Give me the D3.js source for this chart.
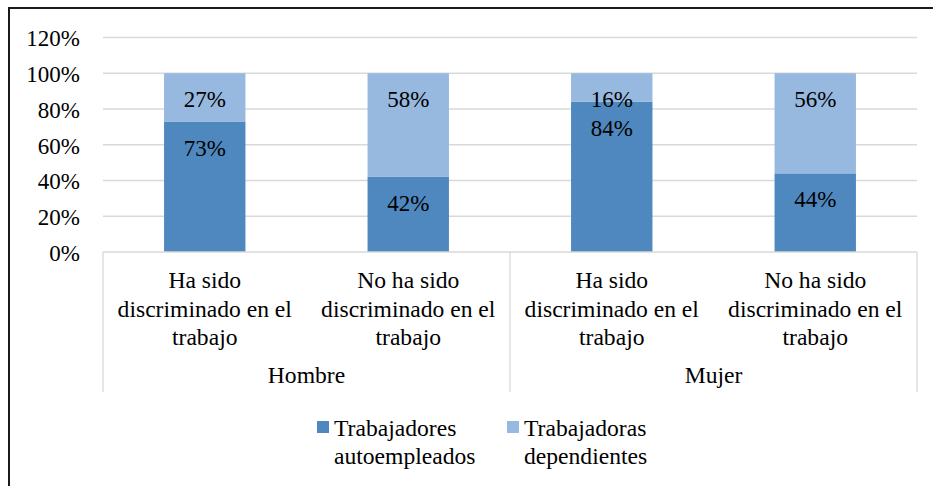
<!DOCTYPE html>
<html>
<head>
<meta charset="utf-8">
<script src="https://cdn.jsdelivr.net/npm/d3@7"></script>
<style>
  html, body { margin: 0; padding: 0; background: #fff; }
  svg { display: block; }
</style>
</head>
<body>
<svg id="chart" width="933" height="486"></svg>
<script>
// ---- data ----
const groups = ["Hombre", "Mujer"];
const categories = [
  ["Ha sido", "discriminado en el", "trabajo"],
  ["No ha sido", "discriminado en el", "trabajo"],
  ["Ha sido", "discriminado en el", "trabajo"],
  ["No ha sido", "discriminado en el", "trabajo"]
];
const categoryGroup = [0, 0, 1, 1];
const seriesNames = [["Trabajadores", "autoempleados"], ["Trabajadoras", "dependientes"]];
const autoempleados = [0.73, 0.42, 0.84, 0.44];
const dependientes = [0.27, 0.58, 0.16, 0.56];
const yTicks = [0, 0.2, 0.4, 0.6, 0.8, 1.0, 1.2];

// ---- layout ----
const FONT = "'Liberation Serif', 'DejaVu Serif', serif";
const svg = d3.select("#chart").attr("font-family", FONT);
const colors = ["#4F88BE", "#97B8DF"];
const plotLeft = 103, plotRight = 917, plotTop = 37.5, plotBase = 252;

// frame
svg.append("rect").attr("x", 9).attr("y", 8).attr("width", 940).attr("height", 500)
  .attr("fill", "none").attr("stroke", "#1a1a1a").attr("stroke-width", 2);

const idx = d3.range(categories.length);
const x = d3.scaleBand().domain(idx).range([plotLeft, plotRight]).padding(0);
const y = d3.scaleLinear().domain([0, 1.2]).range([plotBase, plotTop]);
const barW = x.bandwidth() * 0.4;

// gridlines
svg.append("g").selectAll("line").data(yTicks.filter(t => t > 0)).join("line")
  .attr("x1", plotLeft).attr("x2", plotRight)
  .attr("y1", d => y(d)).attr("y2", d => y(d))
  .attr("stroke", "#D9D9D9").attr("stroke-width", 1.3);

// y axis labels
const yAxis = d3.axisLeft(y).tickValues(yTicks).tickFormat(d3.format(".0%")).tickSize(0).tickPadding(23);
const ya = svg.append("g").attr("transform", `translate(${plotLeft},0)`).call(yAxis);
ya.attr("font-family", FONT).attr("font-size", 23);
ya.select(".domain").remove();
ya.selectAll("text").attr("fill", "#000").attr("dy", "0.36em");

// bars
const stacks = [autoempleados, dependientes];
idx.forEach(i => {
  let acc = 0;
  stacks.forEach((s, k) => {
    const v = s[i];
    const y0 = acc, y1 = acc + v;
    acc = y1;
    svg.append("rect")
      .attr("x", x(i) + (x.bandwidth() - barW) / 2)
      .attr("y", y(y1))
      .attr("width", barW)
      .attr("height", y(y0) - y(y1))
      .attr("fill", colors[k]);
  });
});
// value labels (inside end)
idx.forEach(i => {
  let acc = 0;
  stacks.forEach((s, k) => {
    acc += s[i];
    svg.append("text")
      .attr("x", x(i) + x.bandwidth() / 2)
      .attr("y", y(acc) + 34)
      .attr("text-anchor", "middle")
      .attr("font-family", FONT)
      .attr("font-size", 23)
      .text(d3.format(".0%")(s[i]));
  });
});

// x axis
const axisG = svg.append("g");
axisG.append("line").attr("x1", plotLeft).attr("x2", plotRight).attr("y1", plotBase).attr("y2", plotBase)
  .attr("stroke", "#D9D9D9").attr("stroke-width", 1.3);
const sepX = [plotLeft, x(2), plotRight];
axisG.selectAll("line.sep").data(sepX).join("line").attr("class", "sep")
  .attr("x1", d => d).attr("x2", d => d).attr("y1", plotBase).attr("y2", 392)
  .attr("stroke", "#D9D9D9").attr("stroke-width", 1.3);

idx.forEach(i => {
  categories[i].forEach((line, j) => {
    svg.append("text")
      .attr("x", x(i) + x.bandwidth() / 2)
      .attr("y", 288 + j * 28.5)
      .attr("text-anchor", "middle")
      .attr("font-family", FONT)
      .attr("font-size", 23.6)
      .text(line);
  });
});
groups.forEach((g, gi) => {
  const members = idx.filter(i => categoryGroup[i] === gi);
  const cx = (x(members[0]) + x(members[members.length - 1]) + x.bandwidth()) / 2;
  svg.append("text").attr("x", cx).attr("y", 383).attr("text-anchor", "middle")
    .attr("font-family", FONT).attr("font-size", 23.6).text(g);
});

// legend
const legX = [317, 507];
seriesNames.forEach((nm, k) => {
  svg.append("rect").attr("x", legX[k]).attr("y", 421).attr("width", 12).attr("height", 12)
    .attr("fill", colors[k]);
  nm.forEach((line, j) => {
    svg.append("text").attr("x", legX[k] + 17).attr("y", 436 + j * 27.5)
      .attr("font-family", FONT).attr("font-size", 23.6).text(line);
  });
});
</script>
</body>
</html>
